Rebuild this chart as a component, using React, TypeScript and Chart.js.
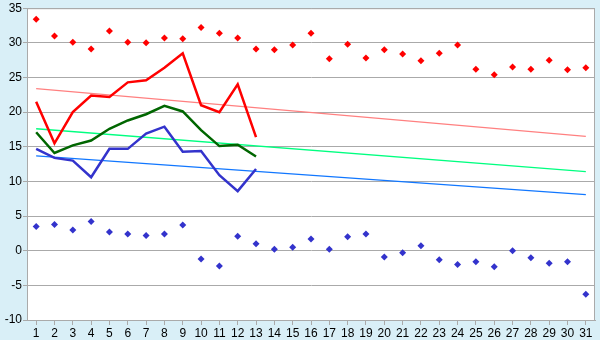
import React, { useEffect, useRef } from "react";
import { Chart, registerables } from "chart.js";

Chart.register(...registerables);

const days = Array.from({ length: 31 }, (_, i) => String(i + 1));

const maxPoints = [33.4, 31.0, 30.1, 29.1, 31.7, 30.1, 30.0, 30.7, 30.6, 32.2, 31.4, 30.7, 29.1, 29.0, 29.7, 31.4, 27.7, 29.8, 27.8, 29.0, 28.4, 27.4, 28.5, 29.7, 26.2, 25.4, 26.5, 26.2, 27.5, 26.1, 26.4];
const minPoints = [3.5, 3.8, 3.0, 4.2, 2.7, 2.4, 2.2, 2.4, 3.7, -1.2, -2.2, 2.1, 1.0, 0.2, 0.5, 1.7, 0.2, 2.0, 2.4, -0.9, -0.3, 0.7, -1.3, -2.0, -1.6, -2.3, 0.0, -1.0, -1.8, -1.6, -6.3];

const maxLine = [21.5, 15.5, 20.0, 22.4, 22.2, 24.3, 24.6, 26.4, 28.5, 21.0, 20.0, 24.0, 16.4];
const meanLine = [17.1, 14.1, 15.2, 15.9, 17.6, 18.8, 19.7, 20.9, 20.1, 17.4, 15.1, 15.3, 13.6];
const minLine = [14.7, 13.4, 13.0, 10.6, 14.7, 14.7, 16.9, 17.9, 14.3, 14.4, 10.9, 8.6, 11.8];

// normal (trend) lines: value at day 1 and day 31
const normalMax = [23.4, 16.5];
const normalMean = [17.6, 11.4];
const normalMin = [13.7, 8.1];

const yTicks = { min: -10, max: 35, step: 5 };

function endpoints(pair: number[]) {
  const arr: (number | null)[] = days.map(() => null);
  arr[0] = pair[0];
  arr[days.length - 1] = pair[1];
  return arr;
}

const bgPlugin = {
  id: "bg",
  beforeDraw(chart: any) {
    const { ctx, chartArea } = chart;
    ctx.save();
    ctx.fillStyle = "#D9EFF7";
    ctx.fillRect(0, 0, chart.width, chart.height);
    ctx.fillStyle = "#FFFFFF";
    ctx.fillRect(chartArea.left, chartArea.top, chartArea.right - chartArea.left, chartArea.bottom - chartArea.top);
    ctx.restore();
  },
  afterDatasetsDraw(chart: any) {
    const { ctx, chartArea } = chart;
    ctx.save();
    ctx.strokeStyle = "#AAAAAA";
    ctx.lineWidth = 1;
    ctx.beginPath();
    ctx.moveTo(chartArea.left + 0.5, chartArea.top + 0.5);
    ctx.lineTo(chartArea.right - 0.5, chartArea.top + 0.5);
    ctx.lineTo(chartArea.right - 0.5, chartArea.bottom);
    ctx.stroke();
    ctx.restore();
  },
};

export default function App() {
  const ref = useRef<HTMLCanvasElement | null>(null);
  useEffect(() => {
    if (!ref.current) return;
    const font = { family: "'Liberation Sans', Arial, sans-serif", size: 12 };
    const lineDs = (label: string, data: (number | null)[], color: string, width: number, order: number, span = false) => ({
      type: "line" as const,
      label,
      data,
      borderColor: color,
      backgroundColor: color,
      borderWidth: width,
      pointRadius: 0,
      spanGaps: span,
      tension: 0,
      order,
    });
    const chart = new Chart(ref.current, {
      type: "line",
      data: {
        labels: days,
        datasets: [
          lineDs("Normal max", endpoints(normalMax), "#FF8080", 1.3, 10, true),
          lineDs("Normal mean", endpoints(normalMean), "#00FF80", 1.3, 10, true),
          lineDs("Normal min", endpoints(normalMin), "#1177FF", 1.3, 10, true),
          lineDs("Max", maxLine, "#FF0000", 2.5, 1),
          lineDs("Mean", meanLine, "#006600", 2.5, 2),
          lineDs("Min", minLine, "#3333CC", 2.5, 3),
          {
            type: "line" as const,
            label: "Record max",
            data: maxPoints,
            showLine: false,
            pointStyle: "rectRot",
            pointRadius: 3.5,
            pointBorderWidth: 0,
            borderColor: "#FF0000",
            backgroundColor: "#FF0000",
            order: 0,
          },
          {
            type: "line" as const,
            label: "Record min",
            data: minPoints,
            showLine: false,
            pointStyle: "rectRot",
            pointRadius: 3.5,
            pointBorderWidth: 0,
            borderColor: "#3333CC",
            backgroundColor: "#3333CC",
            order: 0,
          },
        ],
      },
      options: {
        animation: false,
        responsive: false,
        maintainAspectRatio: false,
        layout: { padding: { top: 5, right: 5, left: 0, bottom: 0 } },
        plugins: { legend: { display: false }, tooltip: { enabled: false } },
        scales: {
          x: {
            type: "category",
            offset: true,
            grid: { display: true, drawOnChartArea: false, drawTicks: true, tickLength: 5, color: "#AAAAAA" },
            border: { color: "#AAAAAA", width: 1 },
            ticks: { color: "#000000", font, padding: 1, maxRotation: 0, autoSkip: false },
            afterFit(scale: any) {
              scale.height = 20;
            },
          },
          y: {
            min: yTicks.min,
            max: yTicks.max,
            ticks: { stepSize: yTicks.step, color: "#000000", font, padding: 1 },
            grid: { color: "#AAAAAA", tickLength: 4, drawTicks: true },
            border: { color: "#AAAAAA", width: 1 },
            afterFit(scale: any) {
              scale.width = 27;
            },
          },
        },
      },
      plugins: [bgPlugin],
    } as any);
    return () => chart.destroy();
  }, []);
  return (
    <div style={{ position: "fixed", left: 0, top: 0, width: 600, height: 340 }}>
      <canvas ref={ref} width={600} height={340} style={{ display: "block" }} />
    </div>
  );
}
